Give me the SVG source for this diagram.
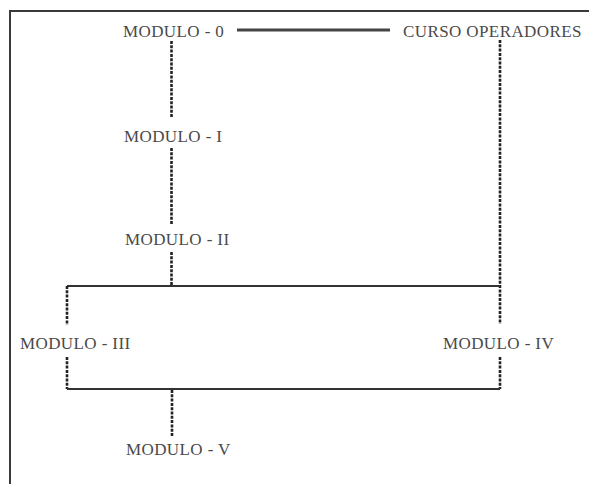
<svg xmlns="http://www.w3.org/2000/svg" width="589" height="484" viewBox="0 0 589 484">
<style>
.t{font-family:"Liberation Serif","Times New Roman",serif;font-size:17px;fill:#4a4a4a;letter-spacing:0.4px}
.dot{stroke:#222;stroke-width:2.6;stroke-dasharray:3 1.3;fill:none}
.sol{stroke:#333;stroke-width:2;fill:none}
.thick{stroke:#444;stroke-width:3;fill:none}
.frame{stroke:#3a3a3a;stroke-width:2;fill:none}
</style>
<rect width="589" height="484" fill="#fff"/>
<path class="frame" d="M10,484 V11 H589"/>
<g id="connectors">
<line class="thick" x1="237" y1="30" x2="390" y2="30"/>
<line class="dot" x1="171.5" y1="41" x2="171.5" y2="117"/>
<line class="dot" x1="171.5" y1="148" x2="171.5" y2="224"/>
<line class="dot" x1="171.5" y1="252" x2="171.5" y2="285"/>
<line class="dot" x1="500" y1="40" x2="500" y2="324"/>
<line class="dot" x1="500" y1="357" x2="500" y2="389"/>
<line class="sol" x1="67" y1="286" x2="500" y2="286"/>
<line class="dot" x1="67" y1="286" x2="67" y2="325"/>
<line class="dot" x1="67" y1="357" x2="67" y2="389"/>
<line class="sol" x1="67" y1="389" x2="500" y2="389"/>
<line class="dot" x1="172" y1="390" x2="172" y2="436"/>
</g>
<g id="modulo0"><text class="t" x="123" y="37">MODULO - 0</text></g>
<g id="curso"><text class="t" x="403" y="37">CURSO OPERADORES</text></g>
<g id="modulo1"><text class="t" x="124" y="141.5">MODULO - I</text></g>
<g id="modulo2"><text class="t" x="125" y="245">MODULO - II</text></g>
<g id="modulo3"><text class="t" x="20" y="349">MODULO - III</text></g>
<g id="modulo4"><text class="t" x="443" y="349">MODULO - IV</text></g>
<g id="modulo5"><text class="t" x="126" y="455">MODULO - V</text></g>
</svg>
